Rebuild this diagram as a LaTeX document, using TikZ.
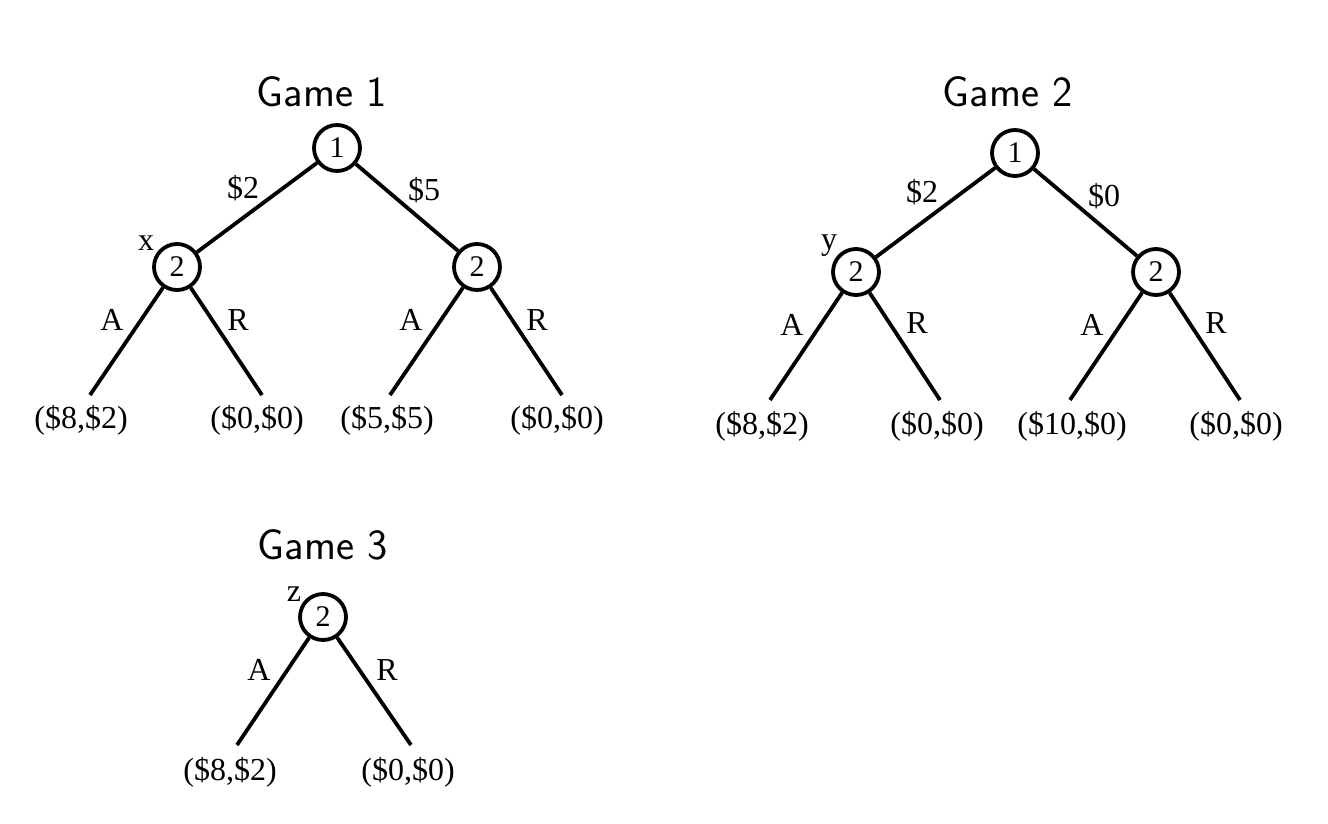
\documentclass[tikz,border=0pt]{standalone}
\usepackage{fontspec}
\newfontfamily\gtserif{Liberation Serif}
\newcommand\gtlabfont{\gtserif\fontsize{32}{32}\selectfont}
\newcommand\gtnumfont{\gtserif\fontsize{30}{30}\selectfont}
\newcommand\gttitlefont{\sffamily\fontsize{43}{43}\selectfont}
\begin{document}
\begin{tikzpicture}[x=1pt,y=-1pt,
  player/.style={circle,draw,line width=3.8pt,minimum size=46pt,inner sep=0pt,font=\gtnumfont},
  branch/.style={line width=3.8pt},
  lab/.style={font=\gtlabfont,inner sep=0pt},
  ttl/.style={font=\gttitlefont,inner sep=0pt}]
\useasboundingbox (0,0) rectangle (1328,824);

% ---------- Game 1 ----------
\node[ttl] (t1) at (322,92) {Game 1};
\node[player] (g1r) at (337,148) {1};
\node[player] (g1a) at (177,267) {2};
\node[player] (g1b) at (477,267) {2};
\coordinate (g1e1) at (90,395);
\coordinate (g1e2) at (262,395);
\coordinate (g1e3) at (390,395);
\coordinate (g1e4) at (562,395);
\draw[branch] (g1r) -- (g1a);
\draw[branch] (g1r) -- (g1b);
\draw[branch] (g1a) -- (g1e1);
\draw[branch] (g1a) -- (g1e2);
\draw[branch] (g1b) -- (g1e3);
\draw[branch] (g1b) -- (g1e4);
\node[lab] (g1l1) at (243,188) {\$2};
\node[lab] (g1l2) at (424,190) {\$5};
\node[lab] (g1x) at (146,243) {x};
\node[lab] (g1A1) at (112,320) {A};
\node[lab] (g1R1) at (238,320) {R};
\node[lab] (g1A2) at (411,320) {A};
\node[lab] (g1R2) at (537,320) {R};
\node[lab] (g1p1) at (81,420) {(\$8,\$2)};
\node[lab] (g1p2) at (257,420) {(\$0,\$0)};
\node[lab] (g1p3) at (387,420) {(\$5,\$5)};
\node[lab] (g1p4) at (557,420) {(\$0,\$0)};

% ---------- Game 2 ----------
\node[ttl] (t2) at (1008,92) {Game 2};
\node[player] (g2r) at (1015,153) {1};
\node[player] (g2a) at (856,272) {2};
\node[player] (g2b) at (1156,272) {2};
\coordinate (g2e1) at (770,400);
\coordinate (g2e2) at (940,400);
\coordinate (g2e3) at (1070,400);
\coordinate (g2e4) at (1240,400);
\draw[branch] (g2r) -- (g2a);
\draw[branch] (g2r) -- (g2b);
\draw[branch] (g2a) -- (g2e1);
\draw[branch] (g2a) -- (g2e2);
\draw[branch] (g2b) -- (g2e3);
\draw[branch] (g2b) -- (g2e4);
\node[lab] (g2l1) at (922,192) {\$2};
\node[lab] (g2l2) at (1104,196) {\$0};
\node[lab] (g2y) at (829,246) {y};
\node[lab] (g2A1) at (792,325) {A};
\node[lab] (g2R1) at (917,323) {R};
\node[lab] (g2A2) at (1092,325) {A};
\node[lab] (g2R2) at (1216,323) {R};
\node[lab] (g2p1) at (762,426) {(\$8,\$2)};
\node[lab] (g2p2) at (937,426) {(\$0,\$0)};
\node[lab] (g2p3) at (1072,426) {(\$10,\$0)};
\node[lab] (g2p4) at (1236,426) {(\$0,\$0)};

% ---------- Game 3 ----------
\node[ttl] (t3) at (323,545) {Game 3};
\node[player] (g3a) at (323,617) {2};
\coordinate (g3e1) at (237,745);
\coordinate (g3e2) at (411,745);
\draw[branch] (g3a) -- (g3e1);
\draw[branch] (g3a) -- (g3e2);
\node[lab] (g3z) at (294,594) {z};
\node[lab] (g3A) at (259,670) {A};
\node[lab] (g3R) at (387,670) {R};
\node[lab] (g3p1) at (230,772) {(\$8,\$2)};
\node[lab] (g3p2) at (408,772) {(\$0,\$0)};
\end{tikzpicture}
\end{document}
